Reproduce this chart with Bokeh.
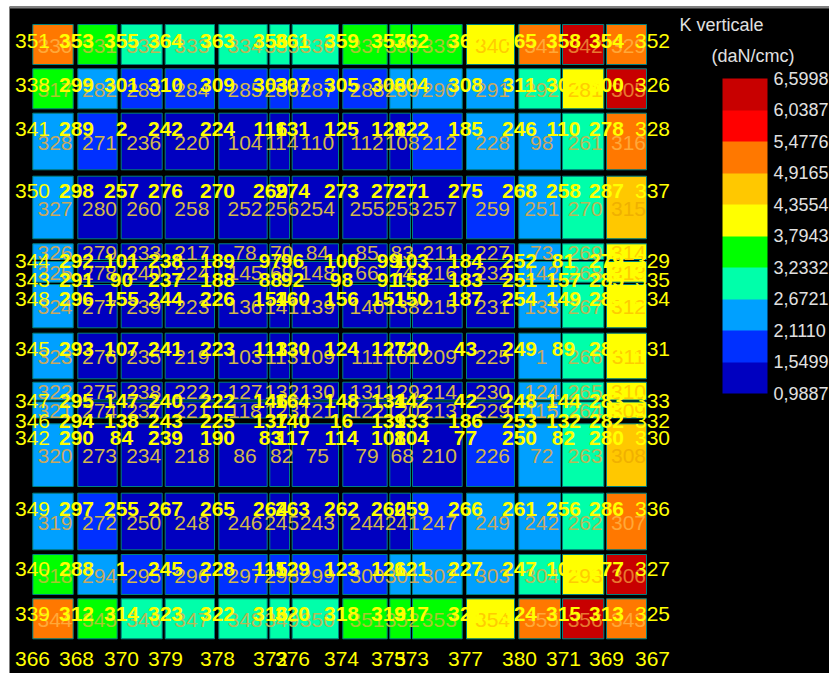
from bokeh.plotting import figure
from bokeh.models import Range1d, ColorBar, LinearColorMapper, FixedTicker, Label, Span
from bokeh.core.properties import value
from bokeh.embed import file_html
from bokeh.resources import INLINE

# K verticale classes (low to high)
levels = [0.9887, 1.5499, 2.1110, 2.6721, 3.2332, 3.7943, 4.3554, 4.9165, 5.4776, 6.0387, 6.5998]
level_labels = ["0,9887", "1,5499", "2,1110", "2,6721", "3,2332", "3,7943", "4,3554", "4,9165", "5,4776", "6,0387", "6,5998"]
palette = ["#0000C0", "#0030FF", "#00A0FF", "#00FFAA", "#00FF00", "#FFFF00", "#FFC800", "#FF7800", "#FF0000", "#C80000"]
cell_text_palette = ["#D2B84C", "#D2B84C", "#C8A860", "#B8B858", "#A8C830", "#FFCC00", "#F0B000", "#FFA838", "#FFA838", "#E87830"]

# plan geometry of the slab elements
col_left  = [32.3, 77.3, 120.7, 164.7, 218.3, 269.3, 291.7, 342.3, 389.3, 412, 466, 518.3, 562, 606]
col_right = [72.7, 116.7, 161.7, 214, 266.7, 289, 338, 386.7, 410, 461.7, 514, 560, 603.3, 646]
row_top    = [24, 68.3, 112.7, 175.7, 243.3, 261, 284, 332.7, 381.7, 401.5, 423.3, 492.7, 554, 598.3]
row_bottom = [64, 108.3, 169.3, 238.3, 259, 281.7, 327.3, 378.3, 399.5, 417.5, 486, 549.3, 594, 638.3]

# nodes of the mesh
node_x = [32, 76, 121, 165, 217, 270, 292, 341, 388, 411, 465, 519, 563, 606, 652]
node_y = [40, 84, 128, 190, 260, 279, 298, 348, 400, 420, 437, 508, 568, 613, 658]

# class index of each element
cell_class = [
    [7, 4, 3, 3, 3, 3, 3, 4, 4, 4, 5, 7, 9, 7],
    [4, 2, 1, 1, 1, 1, 1, 1, 2, 2, 2, 3, 5, 9],
    [2, 1, 0, 0, 0, 0, 0, 0, 0, 1, 2, 2, 3, 7],
    [2, 0, 0, 0, 0, 0, 0, 0, 0, 0, 1, 2, 3, 6],
    [2, 0, 0, 0, 0, 0, 0, 0, 0, 0, 0, 2, 3, 5],
    [2, 0, 0, 0, 0, 0, 0, 0, 0, 0, 0, 2, 3, 5],
    [2, 0, 0, 0, 0, 0, 0, 0, 0, 0, 0, 2, 3, 5],
    [2, 0, 0, 0, 0, 0, 0, 0, 0, 0, 0, 2, 3, 5],
    [2, 0, 0, 0, 0, 0, 0, 0, 0, 0, 0, 2, 3, 5],
    [2, 0, 0, 0, 0, 0, 0, 0, 0, 0, 0, 2, 3, 5],
    [2, 0, 0, 0, 0, 0, 0, 0, 0, 0, 1, 2, 3, 6],
    [2, 1, 0, 0, 0, 0, 0, 0, 0, 1, 2, 2, 3, 7],
    [4, 2, 1, 1, 1, 1, 1, 1, 2, 2, 2, 3, 5, 9],
    [7, 4, 3, 3, 3, 3, 3, 4, 4, 4, 5, 7, 9, 7],
]

# element numbers
cell_labels = [
    [330, 331, 332, 333, 334, 335, 336, 337, 338, 339, 340, 341, 342, 329],
    [317, 282, 283, 284, 285, 286, 287, 288, 289, 290, 291, 292, 281, 305],
    [328, 271, 236, 220, 104, 114, 110, 112, 108, 212, 228, 98, 261, 316],
    [327, 280, 260, 258, 252, 256, 254, 255, 253, 257, 259, 251, 270, 315],
    [326, 279, 233, 217, 78, 70, 84, 85, 83, 211, 227, 73, 269, 314],
    [325, 278, 240, 224, 145, 69, 148, 66, 74, 216, 232, 142, 268, 313],
    [324, 277, 239, 223, 136, 141, 139, 140, 138, 215, 231, 133, 267, 312],
    [323, 276, 235, 219, 103, 113, 109, 111, 101, 209, 225, 1, 266, 311],
    [322, 275, 238, 222, 127, 132, 130, 131, 129, 214, 230, 124, 265, 310],
    [321, 274, 237, 221, 118, 123, 121, 122, 120, 213, 229, 115, 264, 309],
    [320, 273, 234, 218, 86, 82, 75, 79, 68, 210, 226, 72, 263, 308],
    [319, 272, 250, 248, 246, 245, 243, 244, 241, 247, 249, 242, 262, 307],
    [318, 294, 295, 296, 297, 298, 299, 300, 301, 302, 303, 304, 293, 306],
    [344, 345, 346, 347, 348, 349, 350, 351, 352, 353, 354, 355, 356, 343],
]

# node numbers
node_labels = [
    [351, 353, 355, 364, 363, 356, 361, 359, 357, 362, 360, 365, 358, 354, 352],
    [338, 299, 301, 310, 309, 303, 307, 305, 306, 304, 308, 311, 302, 300, 326],
    [341, 289, 2, 242, 224, 116, 131, 125, 128, 122, 185, 246, 110, 278, 328],
    [350, 298, 257, 276, 270, 269, 274, 273, 272, 271, 275, 268, 258, 287, 337],
    [344, 292, 101, 238, 189, 97, 96, 100, 99, 103, 184, 252, 81, 279, 329],
    [343, 291, 90, 237, 188, 88, 92, 98, 91, 158, 183, 251, 157, 285, 335],
    [348, 296, 155, 244, 226, 154, 160, 156, 151, 150, 187, 254, 149, 284, 334],
    [345, 293, 107, 241, 223, 113, 130, 124, 127, 120, 43, 249, 89, 281, 331],
    [347, 295, 147, 240, 222, 146, 164, 148, 134, 142, 42, 248, 144, 283, 333],
    [346, 294, 138, 243, 225, 137, 140, 16, 139, 133, 186, 253, 132, 282, 332],
    [342, 290, 84, 239, 190, 83, 117, 114, 108, 104, 77, 250, 82, 280, 330],
    [349, 297, 255, 267, 265, 264, 263, 262, 260, 259, 266, 261, 256, 286, 336],
    [340, 288, 1, 245, 228, 115, 129, 123, 126, 121, 227, 247, 109, 277, 327],
    [339, 312, 314, 323, 322, 316, 320, 318, 319, 317, 321, 324, 315, 313, 325],
    [366, 368, 370, 379, 378, 372, 376, 374, 375, 373, 377, 380, 371, 369, 367],
]

legend_title = "K verticale"
legend_unit = "(daN/cmc)"

p = figure(width=829, height=673, output_backend="svg", toolbar_location=None,
           x_range=Range1d(9, 829), y_range=Range1d(673, 6),
           min_border=0, min_border_left=9, min_border_top=6, min_border_right=0, min_border_bottom=0,
           background_fill_color="#000000", border_fill_color="#FFFFFF")
p.axis.visible = False
p.grid.visible = False
p.outline_line_color = None
p.add_layout(Span(location=7, dimension="width", line_color="#808080", line_width=2))

left, right, top, bottom, fills, tx, ty, tl, tc = [], [], [], [], [], [], [], [], []
for r, row in enumerate(cell_class):
    for c, k in enumerate(row):
        left.append(col_left[c]); right.append(col_right[c])
        top.append(row_top[r]); bottom.append(row_bottom[r])
        fills.append(palette[k])
        tx.append((col_left[c] + col_right[c]) / 2 + 2)
        ty.append((row_top[r] + row_bottom[r]) / 2 + 1)
        tl.append(str(cell_labels[r][c]))
        tc.append(cell_text_palette[k])

p.quad(left=left, right=right, top=top, bottom=bottom, fill_color=fills,
       line_color="#008080", line_width=1)
p.text(x=tx, y=ty, text=tl, text_color=tc, text_font=value("Liberation Sans"),
       text_font_size="21px", text_align="center", text_baseline="middle")

# outer labels are set plain, inner ones heavier
for inner in (False, True):
    nx, ny, nl = [], [], []
    for r, row in enumerate(node_labels):
        for c, n in enumerate(row):
            is_inner = 0 < c < len(row) - 1 and r < len(node_labels) - 1
            if is_inner == inner:
                nx.append(node_x[c]); ny.append(node_y[r]); nl.append(str(n))
    p.text(x=nx, y=ny, text=nl, text_color="#FFFF00", text_font=value("Liberation Sans"),
           text_font_style="bold" if inner else "normal",
           text_font_size="21px", text_align="center", text_baseline="middle")

mapper = LinearColorMapper(palette=palette, low=levels[0], high=levels[-1])
cb = ColorBar(color_mapper=mapper, ticker=FixedTicker(ticks=levels),
              major_label_overrides=dict(zip(levels, level_labels)),
              location=(713, 280), width=45, height=315, padding=0, margin=0,
              background_fill_color=None, bar_line_color=None,
              major_tick_line_color=None, minor_tick_line_color=None,
              major_label_text_color="#E0E0E0", major_label_text_font="Liberation Sans",
              major_label_text_font_size="18px", label_standoff=6)
p.add_layout(cb, "center")

for text, x, y in [(legend_title, 670, 649), (legend_unit, 702, 618)]:
    p.add_layout(Label(x=x, y=y, x_units="screen", y_units="screen", text=text,
                       text_color="#E0E0E0", text_font="Liberation Sans",
                       text_font_size="18px", text_baseline="middle"))

open("out.html", "w").write(file_html(p, INLINE))
